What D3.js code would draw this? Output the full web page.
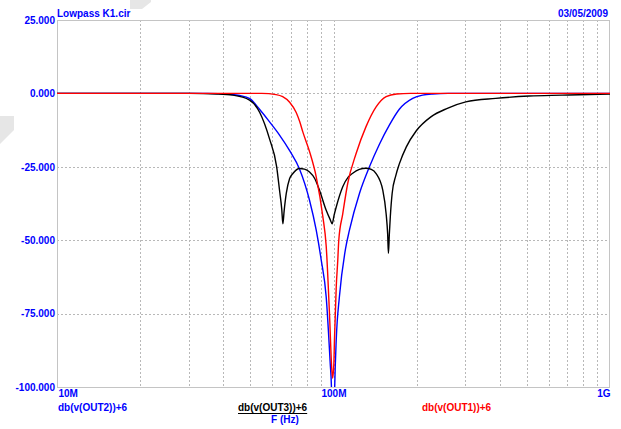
<!DOCTYPE html>
<html>
<head>
<meta charset="utf-8">
<script src="https://cdn.jsdelivr.net/npm/d3@7"></script>
<style>
  html, body { margin: 0; padding: 0; background: #ffffff; }
  svg { display: block; }
  text { font-family: "Liberation Sans", Arial, sans-serif; font-weight: bold; font-size: 10px; }
</style>
</head>
<body>
<svg id="chart" width="621" height="429"></svg>
<script>
// ---------- data (frequency in MHz, response in dB) ----------
const out2Freq = [10, 35, 42, 45.8, 49.8, 54.1, 58.7, 63.8, 69.4, 75.4, 81.9, 86.6, 90.3, 94.1, 97.3, 98.3, 99.6, 101, 102.3, 105.1, 110.5, 114.2, 124.2, 134.9, 146.6, 159.2, 173, 193.4, 210, 228, 260, 1000];
const out2Db   = [0, 0, -0.3, -0.7, -1.8, -5.5, -9.7, -14.2, -19.5, -25.8, -36.4, -46.6, -56.8, -69.3, -92, -100, -135, -100, -84, -69, -53, -46.6, -34, -25, -17.3, -10.8, -5.4, -1.7, -0.6, -0.2, 0, 0];

const out3Freq = [10, 30, 38, 43.3, 49.7, 54.1, 58.7, 62.3, 63.8, 65, 65.6, 66.3, 67.5, 69.4, 71.3, 75.4, 78.5, 81.9, 85.5, 89, 94.1, 97.3, 98.9, 100.5, 102.3, 108, 113, 117, 124, 131, 137, 142.6, 150.8, 155, 157, 158, 159.2, 160.5, 163, 168, 173, 183.4, 199, 225, 258, 301, 386, 510, 671, 1000];
const out3Db   = [0, 0, -0.2, -0.6, -2.3, -6.5, -15.5, -25, -33, -39.5, -44.4, -40, -34, -29, -27.3, -25.6, -25.8, -26.8, -29, -33, -39.8, -43, -44.4, -41.5, -38.7, -31.8, -28.5, -27.3, -25.9, -25.5, -25.9, -27.3, -33, -41, -48, -54.5, -48, -42, -34, -28, -24, -18.2, -12.8, -8, -5.1, -2.9, -1.7, -0.9, -0.6, -0.2];

const out1Freq = [10, 55, 62, 65.5, 69.4, 73.3, 75.4, 77.5, 81.9, 86.6, 91.5, 94.1, 96.7, 98.6, 99.3, 100.3, 100.8, 102.3, 103.6, 104.5, 108, 112.6, 120.8, 131, 142.6, 155, 169, 190, 1000];
const out1Db   = [0, 0, -0.4, -1.1, -3, -6.5, -9.5, -13.2, -19.8, -28.4, -42, -52, -75, -94, -97, -92, -84, -66, -57, -50, -41, -30.6, -20.4, -11.4, -4.6, -1.1, -0.2, 0, 0];

const yTickValues = [25, 0, -25, -50, -75, -100];
const xTickValues = [10, 100, 1000];
const xTickLabels = ["10M", "100M", "1G"];
const seriesNames = ["db(v(OUT2))+6", "db(v(OUT3))+6", "db(v(OUT1))+6"];
const titleText = "Lowpass K1.cir";
const dateText = "03/05/2009";
const xAxisTitle = "F (Hz)";

// ---------- layout ----------
const svg = d3.select("#chart");
const pLeft = 57, pRight = 610, pTop = 20, pBottom = 387;

const x = d3.scaleLog().domain([10, 1000]).range([pLeft, pRight]);
const y = d3.scaleLinear().domain([-100, 25]).range([pBottom, pTop]);

// decorative faint shapes from the original screenshot
svg.append("path").attr("d", "M130,0 L151,0 L151,2 L142,9 L130,9 Z").attr("fill", "#e6e6e6");
svg.append("path").attr("d", "M0,116 L14,116 L14,130 L0,144 Z").attr("fill", "#e6e6e6");

// plot background
svg.append("rect").attr("x", pLeft).attr("y", pTop).attr("width", pRight - pLeft).attr("height", pBottom - pTop)
  .attr("fill", "#ffffff");

// grid
const gridColor = "#b8b8b8";
const minor = [];
[10, 100].forEach(d => { for (let k = 2; k <= 9; k++) minor.push(d * k); });
minor.push(100);
svg.append("g").selectAll("line").data(minor).join("line")
  .attr("x1", d => Math.round(x(d)) + 0.5).attr("x2", d => Math.round(x(d)) + 0.5).attr("y1", pTop).attr("y2", pBottom)
  .attr("stroke", gridColor).attr("stroke-width", 1).attr("stroke-dasharray", "2,2");
svg.append("g").selectAll("line").data(yTickValues.filter(v => v !== 25 && v !== -100)).join("line")
  .attr("x1", pLeft).attr("x2", pRight).attr("y1", d => Math.round(y(d)) + 0.5).attr("y2", d => Math.round(y(d)) + 0.5)
  .attr("stroke", gridColor).attr("stroke-width", 1).attr("stroke-dasharray", "2,2");

// frame
svg.append("rect").attr("x", pLeft + 0.5).attr("y", pTop + 0.5).attr("width", pRight - pLeft - 1).attr("height", pBottom - pTop)
  .attr("fill", "none").attr("stroke", "#c4c4c4").attr("stroke-width", 1);

// curves
const clip = svg.append("defs").append("clipPath").attr("id", "plotclip");
clip.append("rect").attr("x", pLeft).attr("y", pTop).attr("width", pRight - pLeft).attr("height", pBottom - pTop);

const line = d3.line().x(d => x(d[0])).y(d => y(d[1])).curve(d3.curveMonotoneX);
const series = [
  { f: out2Freq, v: out2Db, color: "#0000ff" },
  { f: out3Freq, v: out3Db, color: "#000000" },
  { f: out1Freq, v: out1Db, color: "#ff0000" }
];
const g = svg.append("g").attr("clip-path", "url(#plotclip)");
series.forEach(s => {
  g.append("path").datum(s.f.map((f, i) => [f, s.v[i]]))
    .attr("d", line).attr("fill", "none").attr("stroke", s.color).attr("stroke-width", 1.4);
});

// y axis labels
const yAxis = d3.axisLeft(y).tickValues(yTickValues).tickSize(0).tickPadding(2).tickFormat(d => d.toFixed(3));
const ya = svg.append("g").attr("transform", `translate(${pLeft},0)`).call(yAxis);
ya.select(".domain").remove();
ya.selectAll("text").attr("fill", "#0000ff").style("font-family", "'Liberation Sans', Arial, sans-serif")
  .style("font-weight", "bold").style("font-size", "10px");

// x axis labels
const xAxis = d3.axisBottom(x).tickValues(xTickValues).tickSize(0).tickPadding(3)
  .tickFormat((d, i) => xTickLabels[i]);
const xa = svg.append("g").attr("transform", `translate(0,${pBottom})`).call(xAxis);
xa.select(".domain").remove();
xa.selectAll("text").attr("fill", "#0000ff").style("font-family", "'Liberation Sans', Arial, sans-serif")
  .style("font-weight", "bold").style("font-size", "10px")
  .attr("text-anchor", (d, i) => i === 0 ? "start" : (i === 2 ? "end" : "middle"))
  .attr("dx", (d, i) => i === 0 ? 1 : 0);

// titles
svg.append("text").attr("x", 57).attr("y", 17).attr("fill", "#0000ff").text(titleText);
svg.append("text").attr("x", 608).attr("y", 17).attr("text-anchor", "end").attr("fill", "#0000ff").text(dateText);

// legend row
svg.append("text").attr("x", 58).attr("y", 411).attr("fill", "#0000ff").text(seriesNames[0]);
const t3 = svg.append("text").attr("x", 238).attr("y", 411).attr("fill", "#000000").text(seriesNames[1]);
const w3 = t3.node().getComputedTextLength();
svg.append("line").attr("x1", 238).attr("x2", 238 + w3).attr("y1", 413.5).attr("y2", 413.5)
  .attr("stroke", "#000").attr("stroke-width", 1);
svg.append("text").attr("x", 422).attr("y", 411).attr("fill", "#ff0000").text(seriesNames[2]);
svg.append("text").attr("x", 285).attr("y", 423).attr("text-anchor", "middle").attr("fill", "#0000ff").text(xAxisTitle);
</script>
</body>
</html>
